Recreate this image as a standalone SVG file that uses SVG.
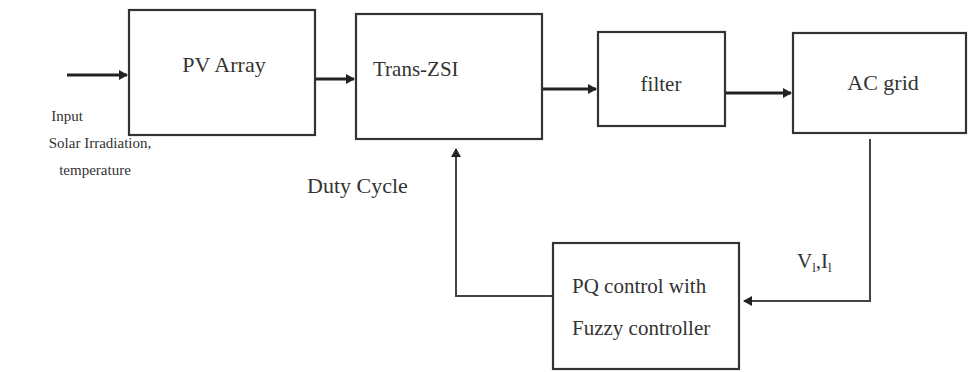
<svg xmlns="http://www.w3.org/2000/svg" width="969" height="372" viewBox="0 0 969 372">
<style>
.box{fill:#fff;stroke:#333;stroke-width:2.2}
.t{font-family:"Liberation Serif","Times New Roman",serif;fill:#333}
.c{fill:none;stroke:#222;stroke-width:3}
.f{fill:none;stroke:#444;stroke-width:2}
</style>
<defs>
<marker id="ah" markerWidth="10" markerHeight="10" refX="8" refY="5" orient="auto" markerUnits="userSpaceOnUse">
<path d="M0,0 L9,5 L0,10 z" fill="#222"/>
</marker>
</defs>
<rect width="969" height="372" fill="#fff"/>
<g id="connectors">
<line class="c" x1="67" y1="75" x2="127" y2="75" marker-end="url(#ah)"/>
<line class="c" x1="315" y1="79" x2="354" y2="79" marker-end="url(#ah)"/>
<line class="c" x1="542" y1="89" x2="596" y2="89" marker-end="url(#ah)"/>
<line class="c" x1="725" y1="93" x2="791" y2="93" marker-end="url(#ah)"/>
<polyline class="f" points="870,139 870,301 744,301" marker-end="url(#ah)"/>
<polyline class="f" points="553,296 456,296 456,149" marker-end="url(#ah)"/>
</g>
<g id="pv"><rect class="box" x="129" y="10" width="186" height="125"/><text class="t" x="224" y="72" font-size="22" text-anchor="middle">PV Array</text></g>
<g id="zsi"><rect class="box" x="356" y="14" width="186" height="125"/><text class="t" x="373" y="76" font-size="21">Trans-ZSI</text></g>
<g id="filter"><rect class="box" x="598" y="32" width="127" height="94"/><text class="t" x="661" y="91" font-size="21" text-anchor="middle">filter</text></g>
<g id="grid"><rect class="box" x="793" y="33" width="173" height="100"/><text class="t" x="883" y="90" font-size="22" text-anchor="middle">AC grid</text></g>
<g id="pq"><rect class="box" x="553" y="243" width="186" height="126"/><text class="t" x="572" y="293" font-size="21">PQ control with</text><text class="t" x="572" y="335" font-size="21">Fuzzy controller</text></g>
<g id="labels">
<text class="t" x="67" y="121" font-size="15" text-anchor="middle">Input</text>
<text class="t" x="100" y="148" font-size="15" text-anchor="middle">Solar Irradiation,</text>
<text class="t" x="95" y="175" font-size="15" text-anchor="middle">temperature</text>
<text class="t" x="307" y="193" font-size="22">Duty Cycle</text>
<text class="t" x="797" y="268" font-size="21">V<tspan font-size="13" dy="4">l</tspan><tspan dy="-4">,I</tspan><tspan font-size="13" dy="4">l</tspan></text>
</g>
</svg>
